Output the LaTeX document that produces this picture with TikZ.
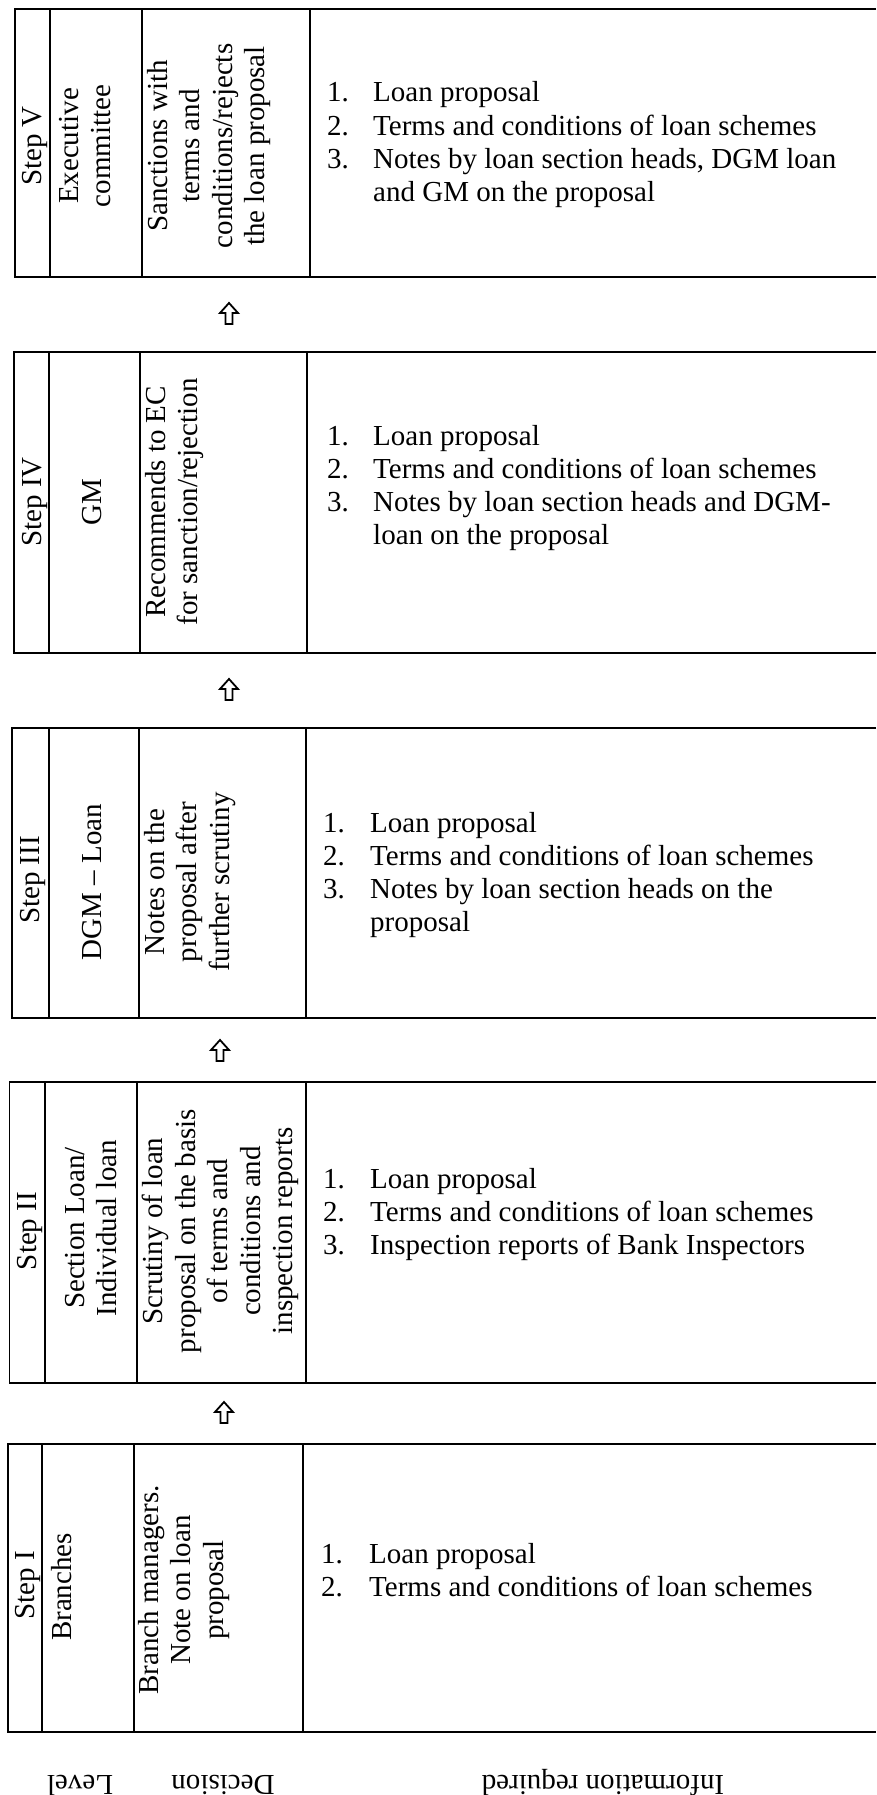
\documentclass[tikz,border=0pt]{standalone}
\usepackage{fontspec}
\setmainfont{Liberation Serif}

% frame of one stage: open on the right, three column rules
\newcommand{\stageframe}[6]{%
  \draw[frame] (876,#1) -| (#3,#2) -- (876,#2);
  \draw[divider] (#4,#1) -- (#4,#2) (#5,#1) -- (#5,#2) (#6,#1) -- (#6,#2);
}

\tikzset{
  frame/.style={line width=1.7pt, line join=miter},
  divider/.style={line width=1.3pt},
  vtext/.style={rotate=90, align=center, inner sep=0pt,
                font=\fontsize{29}{32.5}\selectfont},
  vtop/.style={vtext, anchor=north},
  vmid/.style={vtext, anchor=center},
  infolist/.style={anchor=base west, inner sep=0pt,
                   font=\fontsize{29}{33.3}\selectfont},
  footlabel/.style={rotate=180, anchor=base, inner sep=0pt,
                    font=\fontsize{29}{33}\selectfont},
  liftarrow/.pic={
    \draw[line width=1.8pt, fill=white, line join=miter]
      (0,-11) -- (9,-1) -- (3.5,-1) -- (3.5,10) -- (-3.5,10)
      -- (-3.5,-1) -- (-9,-1) -- cycle;
  },
}

\begin{document}
\begin{tikzpicture}[x=1pt, y=-1pt]
\useasboundingbox (0,0) rectangle (876,1795);
\fill[white] (0,0) rectangle (876,1795);
\clip (0,0) rectangle (876,1795);

% ---------- Step V ----------
\stageframe{9}{277}{15}{50}{142}{310}
\node[vtop] (s5)  at (22,146)  {Step V};
\node[vtop] (d5)  at (59,146)  {Executive\\committee};
\node[vtop] (a5)  at (147,146) {Sanctions with\\terms and\\conditions/rejects\\the loan proposal};
\node[infolist] (i5) at (327,102) {\begin{tabular}[t]{@{}p{46pt}@{}l@{}}
1. & Loan proposal\\
2. & Terms and conditions of loan schemes\\
3. & Notes by loan section heads, DGM loan\\
   & and GM on the proposal
\end{tabular}};

\coordinate (u54) at (229,314);
\pic at (u54) {liftarrow};

% ---------- Step IV ----------
\stageframe{352}{653}{14}{49}{140}{307}
\node[vtop] (s4)  at (22,502)  {Step IV};
\node[vmid] (d4)  at (92,502)  {GM};
\node[vtop] (a4)  at (145,502) {Recommends to EC\\for sanction/rejection};
\node[infolist] (i4) at (327,445) {\begin{tabular}[t]{@{}p{46pt}@{}l@{}}
1. & Loan proposal\\
2. & Terms and conditions of loan schemes\\
3. & Notes by loan section heads and DGM-\\
   & loan on the proposal
\end{tabular}};

\coordinate (u43) at (229,690);
\pic at (u43) {liftarrow};

% ---------- Step III ----------
\stageframe{728}{1018}{12}{49}{139}{306}
\node[vtop] (s3)  at (20,880)  {Step III};
\node[vmid] (d3)  at (92,882)  {DGM -- Loan};
\node[vtop] (a3)  at (144,882) {Notes on the\\proposal after\\further scrutiny};
\node[infolist] (i3) at (323,832) {\begin{tabular}[t]{@{}p{47pt}@{}l@{}}
1. & Loan proposal\\
2. & Terms and conditions of loan schemes\\
3. & Notes by loan section heads on the\\
   & proposal
\end{tabular}};

\coordinate (u32) at (220,1051);
\pic at (u32) {liftarrow};

% ---------- Step II ----------
\stageframe{1082}{1383}{9.5}{45}{137}{306}
\node[vtop] (s2)  at (17,1231)  {Step II};
\node[vmid] (d2)  at (91,1228)  {Section Loan/\\Individual loan};
\node[vtop] (a2)  at (142,1231) {Scrutiny of loan\\proposal on the basis\\of terms and\\conditions and\\inspection reports};
\node[infolist] (i2) at (323,1188) {\begin{tabular}[t]{@{}p{47pt}@{}l@{}}
1. & Loan proposal\\
2. & Terms and conditions of loan schemes\\
3. & Inspection reports of Bank Inspectors
\end{tabular}};

\coordinate (u21) at (224,1413);
\pic at (u21) {liftarrow};

% ---------- Step I ----------
\stageframe{1444}{1732}{8}{42}{134}{303}
\node[vtop] (s1)  at (15,1585)  {Step I};
\node[vtop] (d1)  at (51,1587)  {Branches};
\node[vtop] (a1)  at (138,1590) {Branch managers.\\Note on loan\\proposal};
\node[infolist] (i1) at (321,1563) {\begin{tabular}[t]{@{}p{48pt}@{}l@{}}
1. & Loan proposal\\
2. & Terms and conditions of loan schemes
\end{tabular}};

% ---------- column headings (set upside down) ----------
\node[footlabel] (hlevel) at (80,1775)  {Level};
\node[footlabel] (hdec)   at (223,1775) {Decision};
\node[footlabel] (hinfo)  at (603,1775) {Information required};
\end{tikzpicture}
\end{document}
